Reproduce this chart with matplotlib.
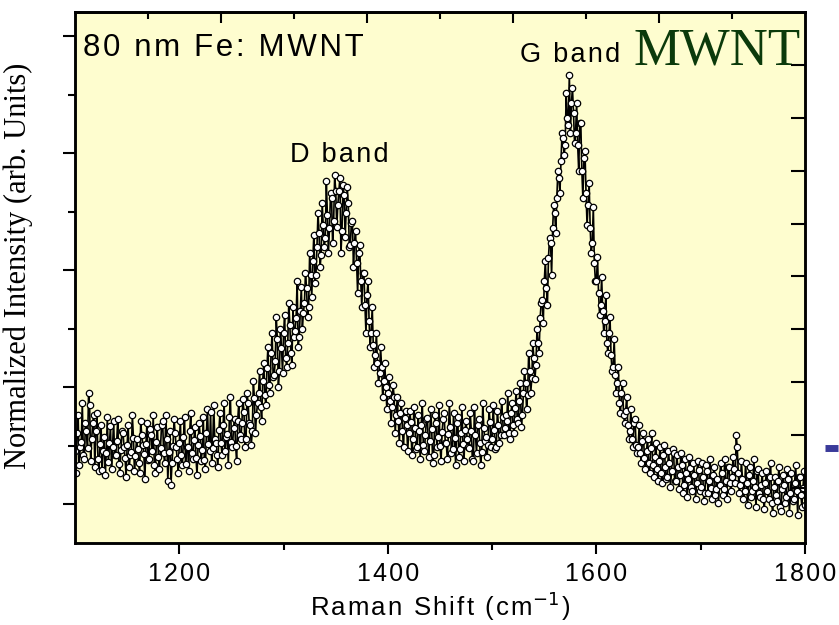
import numpy as np
import matplotlib.pyplot as plt
from matplotlib.lines import Line2D

# Raman shift grid (cm-1): readings at even and odd wavenumbers
shift_start, shift_stop = 1100, 1800

# raw counts (arb. units) at even shifts 1100, 1102, ... (10 per row = 20 cm-1)
counts_even = [
    92, 110, 78, 101, 88, 120, 95, 138, 104, 128,     # 1100
    112, 84, 99, 73, 106, 90, 81, 117, 96, 88,        # 1120
    102, 79, 93, 110, 85, 98, 76, 91, 105, 87,        # 1140
    94, 70, 108, 89, 99, 83, 114, 92, 78, 101,        # 1160
    86, 95, 122, 80, 104, 91, 58, 97, 110, 84,        # 1180
    100, 88, 106, 79, 96, 112, 90, 103, 85, 98,       # 1200
    107, 93, 83, 110, 99, 131, 95, 104, 88, 113,      # 1220
    100, 118, 92, 109, 126, 101, 115, 97, 122, 108,   # 1240
    120, 131, 104, 140, 118, 112, 145, 128, 150, 136, # 1260
    162, 148, 175, 158, 190, 166, 182, 204, 172, 195, # 1280
    210, 185, 200, 218, 178, 206, 225, 196, 232, 214, # 1300
    240, 255, 236, 268, 282, 260, 296, 310, 288, 318, # 1320
    305, 328, 315, 345, 322, 352, 338, 365, 312, 348, # 1340
    330, 340, 298, 322, 300, 280, 290, 262, 270, 238, # 1360
    248, 222, 210, 198, 188, 180, 170, 176, 162, 156, # 1380
    150, 142, 136, 146, 128, 122, 130, 112, 125, 118, # 1400
    110, 121, 104, 115, 96, 112, 118, 98, 108, 125,   # 1420
    102, 114, 88, 120, 106, 97, 111, 130, 100, 109,   # 1440
    116, 94, 105, 120, 86, 110, 99, 113, 104, 95,     # 1460
    112, 82, 108, 118, 100, 91, 115, 106, 98, 121,    # 1480
    104, 113, 96, 118, 108, 126, 115, 122, 110, 130,  # 1500
    118, 135, 124, 142, 116, 150, 160, 148, 172, 165, # 1520
    185, 178, 200, 225, 243, 262, 255, 285, 300, 315, # 1540
    330, 345, 365, 382, 405, 398, 425, 468, 440, 430, # 1560
    410, 398, 420, 372, 385, 350, 338, 315, 300, 280, # 1580
    262, 250, 238, 232, 222, 200, 210, 188, 176, 168, # 1600
    160, 140, 150, 128, 132, 118, 112, 104, 120, 98,  # 1620
    96, 90, 102, 85, 92, 80, 95, 78, 86, 74,          # 1640
    82, 70, 88, 76, 66, 80, 72, 90, 62, 76,           # 1660
    68, 78, 58, 70, 64, 75, 52, 68, 60, 73,           # 1680
    56, 66, 50, 72, 62, 55, 68, 48, 64, 58,           # 1700
    70, 54, 62, 76, 60, 66, 74, 108, 70, 58,          # 1720
    64, 52, 60, 68, 46, 62, 56, 72, 50, 58,           # 1740
    44, 60, 52, 66, 40, 56, 48, 62, 36, 54,           # 1760
    58, 46, 64, 50, 42, 60, 52, 66, 48, 55,           # 1780
    38,                                               # 1800
]

# raw counts at odd shifts 1101, 1103, ... 1799
counts_odd = [
    70, 128, 96, 140, 84, 112, 150, 82, 120, 76,      # 1101
    130, 72, 118, 92, 68, 126, 100, 74, 122, 88,      # 1121
    124, 70, 112, 96, 66, 118, 88, 128, 72, 104,      # 1141
    80, 122, 98, 64, 120, 84, 108, 128, 70, 116,      # 1161
    74, 118, 90, 128, 62, 112, 80, 124, 96, 70,       # 1181
    122, 78, 126, 96, 72, 130, 84, 116, 68, 120,      # 1201
    82, 126, 74, 134, 92, 80, 138, 100, 76, 130,      # 1221
    88, 140, 106, 78, 146, 96, 124, 82, 140, 104,     # 1241
    144, 96, 150, 120, 98, 162, 110, 140, 172, 122,   # 1261
    180, 138, 196, 150, 210, 168, 226, 156, 214, 170, # 1281
    228, 176, 240, 190, 236, 212, 262, 206, 256, 230, # 1301
    270, 226, 290, 246, 308, 268, 330, 276, 340, 296, # 1321
    362, 290, 350, 300, 368, 316, 352, 290, 358, 306, # 1341
    356, 296, 320, 276, 312, 250, 298, 236, 270, 210, # 1361
    262, 196, 236, 176, 210, 160, 196, 146, 180, 134, # 1381
    166, 120, 158, 110, 146, 100, 140, 96, 132, 92,   # 1401
    132, 88, 136, 94, 128, 84, 140, 92, 124, 86,      # 1421
    134, 80, 128, 96, 138, 82, 124, 100, 84, 140,     # 1441
    90, 130, 78, 126, 94, 136, 82, 122, 96, 130,      # 1461
    84, 136, 90, 124, 78, 140, 102, 86, 134, 96,      # 1481
    138, 94, 132, 100, 142, 108, 128, 150, 104, 140,  # 1501
    110, 152, 120, 160, 128, 172, 134, 190, 150, 200, # 1521
    164, 214, 190, 240, 220, 282, 238, 305, 268, 338, # 1541
    310, 372, 350, 410, 388, 450, 418, 410, 455, 400, # 1561
    440, 372, 420, 345, 392, 318, 360, 290, 336, 262, # 1581
    286, 228, 266, 210, 248, 190, 226, 172, 204, 150, # 1601
    176, 130, 160, 120, 146, 104, 134, 96, 124, 90,   # 1621
    118, 80, 110, 74, 104, 70, 110, 66, 100, 62,      # 1641
    96, 60, 98, 64, 92, 56, 94, 62, 88, 54,           # 1661
    90, 50, 84, 46, 86, 56, 80, 44, 82, 52,           # 1681
    80, 42, 78, 50, 84, 44, 76, 54, 40, 80,           # 1701
    48, 84, 44, 76, 52, 86, 60, 96, 50, 82,           # 1721
    44, 80, 38, 76, 52, 84, 36, 74, 46, 70,           # 1741
    34, 72, 44, 80, 30, 66, 42, 76, 32, 68,           # 1761
    40, 74, 30, 70, 44, 78, 28, 66, 36, 72,           # 1781
]

x_tick_labels = ['1200', '1400', '1600', '1800']
x_tick_values = [1200, 1400, 1600, 1800]

shift = np.arange(shift_start, shift_stop + 1)
counts = np.empty(len(shift))
counts[0::2] = counts_even
counts[1::2] = counts_odd
intensity = counts / counts.max()

HAIR = '\u200a'
SANS = ['Liberation Sans', 'DejaVu Sans']


def spaced(s):
    # the original uses loosely tracked Arial-like lettering
    return HAIR.join(s)


fig = plt.figure(figsize=(8.39, 6.25), dpi=100)
ax = fig.add_axes([0.0894, 0.1312, 0.8701, 0.8496])
ax.set_facecolor('#fefdcf')

ax.plot(shift, intensity, '-', color='black', lw=1.2,
        marker='o', ms=4.6, mfc='white', mec='black', mew=0.9)

ax.set_xlim(shift_start, shift_stop)
ax.set_ylim(0, 531 / 468)

# bottom axis
ax.set_xticks(x_tick_values)
ax.set_xticklabels([spaced(t) for t in x_tick_labels], family=SANS, fontsize=18)
ax.set_xticks([1300, 1500, 1700], minor=True)
ax.tick_params(axis='x', which='major', direction='out', length=8, width=1.5, pad=6)
ax.tick_params(axis='x', which='minor', direction='out', length=5, width=1.5)

# left axis, no labels
ax.set_yticks(np.arange(1 / 12, 1.13, 0.25))
ax.set_yticks(np.arange(1 / 12 + 0.125, 1.13, 0.25), minor=True)
ax.tick_params(axis='y', which='major', direction='out', length=9, width=1.5,
               labelleft=False)
ax.tick_params(axis='y', which='minor', direction='out', length=5, width=1.5)

for s in ax.spines.values():
    s.set_linewidth(1.8)

# top axis ticks (inward)
top = ax.secondary_xaxis('top')
top.set_xticks([1240, 1380, 1520, 1660])
top.set_xticks([1170, 1310, 1450, 1590, 1730], minor=True)
top.tick_params(which='major', direction='in', length=8, width=1.5, labeltop=False)
top.tick_params(which='minor', direction='in', length=5, width=1.5)
top.spines['top'].set_linewidth(1.8)

# right axis ticks (inward), empty second scale
right = ax.twinx()
right.set_ylim(-1.04, 9.0)
right.set_yticks(np.arange(0, 9))
right.tick_params(axis='y', direction='in', length=10, width=1.5, labelright=False)
for s in right.spines.values():
    s.set_linewidth(1.8)

ax.set_xlabel(spaced('Raman Shift (cm') + '$^{-1}$' + HAIR + ')', fontsize=18.5,
              family=SANS, labelpad=2)
ax.set_ylabel('Normalized Intensity (arb. Units)', fontsize=22,
              family='Liberation Serif')
ax.yaxis.set_label_coords(-0.058, 0.522)

ax.text(0.011, 0.96, spaced('80 nm Fe: MWNT'), transform=ax.transAxes,
        fontsize=22.5, family=SANS, ha='left', va='top')
ax.text(0.295, 0.755, spaced('D band'), transform=ax.transAxes, fontsize=19.5,
        family=SANS, ha='left', va='top')
ax.text(0.61, 0.944, spaced('G band'), transform=ax.transAxes, fontsize=19.5,
        family=SANS, ha='left', va='top')
ax.text(0.765, 0.97, 'MWNT', transform=ax.transAxes, fontsize=38,
        family='Liberation Serif', color='#0b3a0b', ha='left', va='top')

# stray blue marker of the hidden second series outside the frame
fig.add_artist(Line2D([825 / 839, 838 / 839], [1 - 448 / 625, 1 - 448 / 625],
                      color='#3a3a9a', lw=5, solid_capstyle='butt'))

fig.savefig('out.png', dpi=100)
